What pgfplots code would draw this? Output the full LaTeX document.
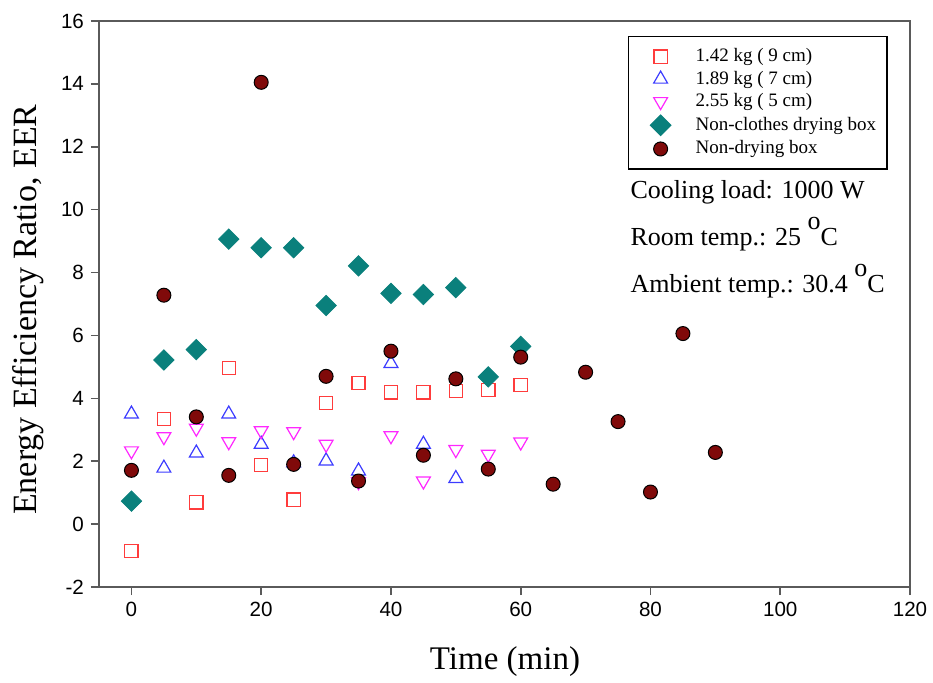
\documentclass[border=0pt]{standalone}
\usepackage{fontspec}
\setmainfont{Liberation Serif}
\setsansfont{Liberation Sans}
\usepackage{pgfplots}
\pgfplotsset{compat=1.18}
\definecolor{sqred}{RGB}{255,60,60}
\definecolor{triblue}{RGB}{60,60,255}
\definecolor{trimag}{RGB}{255,40,255}
\definecolor{teal1}{RGB}{10,128,124}
\definecolor{dred}{RGB}{128,10,10}
\definecolor{axgray}{RGB}{90,90,90}
\begin{document}
\begin{tikzpicture}
\path[use as bounding box] (-49.5pt,-47.5pt) rectangle (417pt,293.5pt);
\begin{axis}[
  scale only axis,
  width=405.5pt, height=283pt,
  xmin=-5, xmax=120, ymin=-2, ymax=16,
  xtick={0,20,...,120}, ytick={-2,0,...,16},
  tick align=outside, tick pos=left,
  major tick length=4pt,
  axis line style={axgray, line width=0.8pt},
  every tick/.style={axgray, line width=0.8pt},
  ticklabel style={font=\sffamily\fontsize{10.3}{12}\selectfont},
  /pgf/number format/assume math mode=true,
  xlabel={Time (min)},
  ylabel={Energy Efficiency Ratio, EER},
  xlabel style={font=\fontsize{16.5}{19}\selectfont, at={(axis description cs:0.5006,-0.132)}, anchor=center},
  ylabel style={font=\fontsize{17}{20}\selectfont, at={(axis description cs:-0.0875,0.49)}, anchor=center},
  legend cell align=left,
  legend image code/.code={\path[draw=none,fill=none] (0pt,-3pt) rectangle (21pt,3pt); \draw[#1] plot coordinates {(10.5pt,0pt)};},
  legend style={at={(rel axis cs:0.6523,0.9735)}, anchor=north west, draw=black, line width=0.6pt,
    font=\fontsize{9.5}{11}\selectfont, inner xsep=5.5pt, inner ysep=5.5pt, column sep=7pt, row sep=2.25pt,
    nodes={inner sep=0pt, text height=7pt, text depth=2pt}},
]
\addplot[only marks, color=sqred, mark=square, mark size=3.3pt, mark options={draw=sqred, fill=none, line width=0.65pt}] coordinates {
(0,-0.85) (5,3.35) (10,0.69) (15,4.97) (20,1.88) (25,0.78) (30,3.85) (35,4.49) (40,4.19) (45,4.19) (50,4.23) (55,4.27) (60,4.43)};
\addlegendentry{1.42 kg ( 9 cm)}
\addplot[only marks, color=triblue, mark=triangle, mark size=4pt, mark options={draw=triblue, line width=0.6pt}] coordinates {
(0,3.50) (5,1.78) (10,2.26) (15,3.50) (20,2.54) (25,1.95) (30,2.01) (35,1.69) (40,5.11) (45,2.54) (50,1.45)};
\addlegendentry{1.89 kg ( 7 cm)}
\addplot[only marks, color=trimag, mark=triangle, mark size=4pt, mark options={draw=trimag, line width=0.6pt, rotate=180}] coordinates {
(0,2.33) (5,2.78) (10,3.05) (15,2.62) (20,2.97) (25,2.94) (30,2.54) (35,1.35) (40,2.81) (45,1.37) (50,2.37) (55,2.22) (60,2.61)};
\addlegendentry{2.55 kg ( 5 cm)}
\addplot[only marks, color=teal1, mark=square*, mark size=3.6pt, mark options={draw=teal1, fill=teal1, rotate=45}] coordinates {
(0,0.73) (5,5.22) (10,5.55) (15,9.06) (20,8.79) (25,8.79) (30,6.95) (35,8.21) (40,7.34) (45,7.30) (50,7.52) (55,4.68) (60,5.65)};
\addlegendentry{Non-clothes drying box}
\addplot[only marks, color=dred, mark=*, mark size=3.5pt, mark options={draw=black, fill=dred, line width=0.5pt}] coordinates {
(0,1.71) (5,7.28) (10,3.41) (15,1.55) (20,14.05) (25,1.90) (30,4.70) (35,1.37) (40,5.50) (45,2.19) (50,4.62) (55,1.75) (60,5.31) (65,1.27) (70,4.83) (75,3.26) (80,1.02) (85,6.06) (90,2.28)};
\addlegendentry{Non-drying box}
\node[anchor=base west, inner sep=0pt, font=\fontsize{13}{15}\selectfont] at (rel axis cs:0.655,0.687) {Cooling load: 1000 W};
\node[anchor=base west, inner sep=0pt, font=\fontsize{13}{15}\selectfont] at (rel axis cs:0.655,0.604) {Room temp.: 25 \raisebox{8pt}{o}C};
\node[anchor=base west, inner sep=0pt, font=\fontsize{13}{15}\selectfont] at (rel axis cs:0.655,0.521) {Ambient temp.: 30.4 \raisebox{8pt}{o}C};
\end{axis}
\end{tikzpicture}
\end{document}
